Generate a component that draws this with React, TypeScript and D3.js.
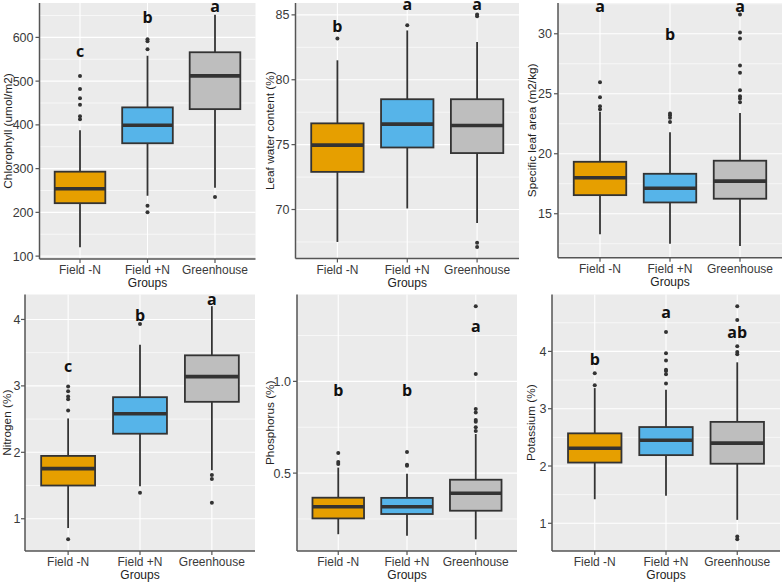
import React from "react";
import * as d3 from "d3";

const groups = ["Field -N", "Field +N", "Greenhouse"];
const fills = ["#E69F00", "#56B4E9", "#BEBEBE"];

// [lower whisker, Q1, median, Q3, upper whisker]
const chlStats = [[120, 221, 254, 293, 388], [238, 358, 399, 440, 558], [256, 436, 512, 566, 652]];
const chlOut = [[413, 420, 446, 461, 482, 512], [200, 215, 573, 591, 596], [235]];
const chlLetters = ["c", "b", "a"];
const chlLetterY = [556, 634, 657];
const chlTicks = [100, 200, 300, 400, 500, 600];

const lwcStats = [[67.5, 72.9, 74.96, 76.64, 81.5], [70.08, 74.78, 76.58, 78.5, 83.8], [68.97, 74.35, 76.48, 78.5, 82.9]];
const lwcOut = [[83.17], [84.2], [67.12, 67.43, 84.9, 85.02]];
const lwcLetters = ["b", "a", "a"];
const lwcLetterY = [83.7, 85.38, 85.38];
const lwcTicks = [70, 75, 80, 85];

const slaStats = [[13.28, 16.55, 18.0, 19.33, 23.5], [12.5, 15.94, 17.13, 18.33, 21.8], [12.3, 16.25, 17.72, 19.42, 23.4]];
const slaOut = [[23.7, 23.95, 24.7, 25.95], [22.65, 23.0, 23.2, 23.35], [24.3, 24.6, 24.8, 25.3, 26.75, 27.35, 29.6, 30.1, 31.6]];
const slaLetters = ["a", "b", "a"];
const slaLetterY = [31.8, 29.5, 31.8];
const slaTicks = [15, 20, 25, 30];

const nStats = [[0.86, 1.5, 1.755, 1.946, 2.51], [1.49, 2.28, 2.58, 2.83, 3.62], [1.73, 2.76, 3.14, 3.46, 4.2]];
const nOut = [[0.69, 2.63, 2.8, 2.84, 2.92, 2.99], [1.39, 3.93], [1.24, 1.6, 1.66]];
const nLetters = ["c", "b", "a"];
const nLetterY = [3.21, 3.98, 4.22];
const nTicks = [1, 2, 3, 4];

const pStats = [[0.167, 0.253, 0.317, 0.366, 0.53], [0.158, 0.277, 0.317, 0.365, 0.496], [0.139, 0.295, 0.39, 0.464, 0.713]];
const pOut = [[0.55, 0.56, 0.61], [0.54, 0.545, 0.615], [0.73, 0.75, 0.78, 0.79, 0.83, 0.85, 1.04, 1.41]];
const pLetters = ["b", "b", "a"];
const pLetterY = [0.918, 0.918, 1.269];
const pTicks = [0.5, 1.0];

const kStats = [[1.42, 2.06, 2.31, 2.57, 3.36], [1.48, 2.19, 2.45, 2.68, 3.33], [1.06, 2.04, 2.4, 2.77, 3.81]];
const kOut = [[3.41, 3.62], [3.44, 3.6, 3.66, 3.68, 3.84, 3.97, 4.34], [0.72, 0.77, 3.95, 3.99, 4.09, 4.55, 4.79]];
const kLetters = ["b", "a", "ab"];
const kLetterY = [3.77, 4.58, 4.23];
const kTicks = [1, 2, 3, 4];

const panels = [
  { title: "Chlorophyll (umol/m2)", stats: chlStats, out: chlOut, letters: chlLetters, letterY: chlLetterY, ticks: chlTicks, fmt: "d",
    rect: { left: 39.5, right: 255.5, top: 3, bottom: 259 }, titleX: 7.5, gap: 6 },
  { title: "Leaf water content (%)", stats: lwcStats, out: lwcOut, letters: lwcLetters, letterY: lwcLetterY, ticks: lwcTicks, fmt: "d",
    rect: { left: 295.5, right: 519, top: 3, bottom: 258.5 }, titleX: 269.5, gap: 6 },
  { title: "Specific leaf area (m2/kg)", stats: slaStats, out: slaOut, letters: slaLetters, letterY: slaLetterY, ticks: slaTicks, fmt: "d",
    rect: { left: 558, right: 782, top: 3, bottom: 257.7 }, titleX: 531.5, gap: 6 },
  { title: "Nitrogen (%)", stats: nStats, out: nOut, letters: nLetters, letterY: nLetterY, ticks: nTicks, fmt: "d",
    rect: { left: 25, right: 255, top: 294.5, bottom: 551 }, titleX: 7, gap: 4.5 },
  { title: "Phosphorus (%)", stats: pStats, out: pOut, letters: pLetters, letterY: pLetterY, ticks: pTicks, fmt: ".1f",
    rect: { left: 297, right: 517, top: 294.5, bottom: 551 }, titleX: 269.5, gap: 6 },
  { title: "Potassium (%)", stats: kStats, out: kOut, letters: kLetters, letterY: kLetterY, ticks: kTicks, fmt: "d",
    rect: { left: 552, right: 780, top: 294.5, bottom: 551 }, titleX: 531, gap: 5.5 },
];

const DARK = "#333333";
const FONT = "'Liberation Sans', Arial, sans-serif";

function Panel({ p }: { p: any }) {
  const { left, right, top, bottom } = p.rect;
  const all: number[] = [];
  p.stats.forEach((s: number[]) => all.push(s[0], s[4]));
  p.out.forEach((o: number[]) => all.push(...o));
  const mn = d3.min(all)!;
  const mx = d3.max(all)!;
  const pad = (mx - mn) * 0.05;
  const y = d3.scaleLinear().domain([mn - pad, mx + pad]).range([bottom, top]);
  // ggplot discrete expansion: 0.6 units each side
  const x = d3.scalePoint().domain(groups).range([left, right]).padding(0.6 / 1.0 * 1);
  const unit = (right - left) / 3.2;
  const cx = (i: number) => left + (i + 0.6) * unit;
  const bw = unit * 0.75;
  const fmt = d3.format(p.fmt);
  const step = p.ticks.length > 1 ? p.ticks[1] - p.ticks[0] : 0.5;
  const minor: number[] = [];
  const [d0, d1] = y.domain();
  for (let t = p.ticks[0] - step / 2; t <= d1; t += step) {
    if (t >= d0) minor.push(t);
  }
  void x;
  return (
    <g>
      <rect x={left} y={top} width={right - left} height={bottom - top} fill="#EBEBEB" />
      {minor.map((t, i) => (
        <line key={"mi" + i} x1={left} x2={right} y1={y(t)} y2={y(t)} stroke="#fff" strokeWidth={0.6} />
      ))}
      {p.ticks.map((t: number, i: number) => (
        <line key={"ma" + i} x1={left} x2={right} y1={y(t)} y2={y(t)} stroke="#fff" strokeWidth={1.1} />
      ))}
      {groups.map((g, i) => (
        <line key={"vg" + i} x1={cx(i)} x2={cx(i)} y1={top} y2={bottom} stroke="#fff" strokeWidth={1.1} />
      ))}
      {p.stats.map((s: number[], i: number) => (
        <g key={"b" + i}>
          <line x1={cx(i)} x2={cx(i)} y1={y(s[3])} y2={y(s[4])} stroke={DARK} strokeWidth={1.8} />
          <line x1={cx(i)} x2={cx(i)} y1={y(s[1])} y2={y(s[0])} stroke={DARK} strokeWidth={1.8} />
          <rect x={cx(i) - bw / 2} y={y(s[3])} width={bw} height={y(s[1]) - y(s[3])} fill={fills[i]} stroke={DARK} strokeWidth={1.8} />
          <line x1={cx(i) - bw / 2} x2={cx(i) + bw / 2} y1={y(s[2])} y2={y(s[2])} stroke={DARK} strokeWidth={3.6} />
          {p.out[i].map((v: number, j: number) => (
            <circle key={j} cx={cx(i)} cy={y(v)} r={2} fill={DARK} />
          ))}
          <text x={cx(i)} y={y(p.letterY[i])} textAnchor="middle" fontFamily="'Open Sans', sans-serif" fontWeight="bold" fontSize={16} fill="#111">
            {p.letters[i]}
          </text>
        </g>
      ))}
      <line x1={left} x2={left} y1={top} y2={bottom} stroke="#555" strokeWidth={1.5} />
      <line x1={left} x2={right} y1={bottom} y2={bottom} stroke="#555" strokeWidth={1.5} />
      {p.ticks.map((t: number, i: number) => (
        <g key={"yt" + i}>
          <line x1={left - 4} x2={left} y1={y(t)} y2={y(t)} stroke="#555" strokeWidth={1.2} />
          <text x={left - p.gap} y={y(t)} dy="0.36em" textAnchor="end" fontFamily={FONT} fontSize={12.5} fill="#3a3a3a">
            {fmt(t)}
          </text>
        </g>
      ))}
      {groups.map((g, i) => (
        <g key={"xt" + i}>
          <line x1={cx(i)} x2={cx(i)} y1={bottom} y2={bottom + 4} stroke="#555" strokeWidth={1.2} />
          <text x={cx(i)} y={bottom + 15} textAnchor="middle" fontFamily={FONT} fontSize={12} fill="#3a3a3a">
            {g}
          </text>
        </g>
      ))}
      <text x={cx(1)} y={bottom + 28} textAnchor="middle" fontFamily={FONT} fontSize={12} fill="#222">
        Groups
      </text>
      <text
        transform={`translate(${p.titleX},${(top + bottom) / 2}) rotate(-90)`}
        textAnchor="middle"
        dy="0.35em"
        fontFamily={FONT}
        fontSize={11.8}
        fill="#222"
      >
        {p.title}
      </text>
    </g>
  );
}

export default function App() {
  return (
    <div style={{ position: "fixed", left: 0, top: 0, width: 784, height: 582, background: "#fff" }}>
      <svg width={784} height={582} viewBox="0 0 784 582">
        <rect width={784} height={582} fill="#fff" />
        {panels.map((p, i) => (
          <Panel key={i} p={p} />
        ))}
      </svg>
    </div>
  );
}
